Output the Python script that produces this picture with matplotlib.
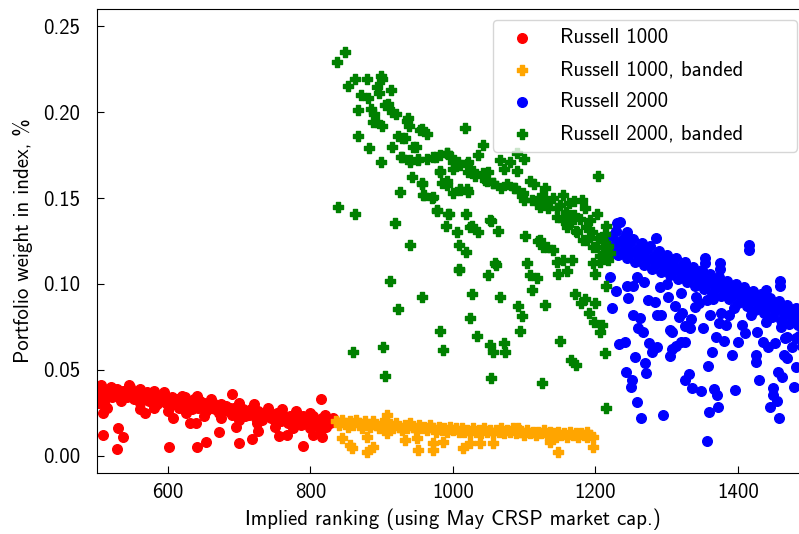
import matplotlib
matplotlib.use("Agg")
import matplotlib.pyplot as plt
import numpy as np

# (implied rank, weight in %)
russell1000 = [
    (500, .039), (503, .035), (506, .041), (508, .037), (511, .033), (514, .038), (517, .036), (520, .040),
    (522, .034), (525, .037), (528, .039), (531, .035), (534, .032), (537, .038), (540, .036), (543, .034),
    (546, .040), (549, .036), (552, .033), (555, .037), (558, .035), (561, .031), (564, .036), (567, .034),
    (570, .037), (573, .032), (576, .035), (579, .033), (582, .036), (585, .030), (588, .034), (591, .032),
    (594, .036), (597, .031), (600, .033), (603, .029), (606, .034), (609, .031), (612, .033), (615, .028),
    (618, .032), (621, .030), (624, .034), (627, .029), (630, .031), (633, .027), (636, .033), (639, .030),
    (642, .028), (645, .032), (648, .029), (651, .031), (654, .026), (657, .030), (660, .028), (663, .031),
    (666, .027), (669, .029), (672, .025), (675, .030), (678, .027), (681, .029), (684, .026), (687, .028),
    (690, .024), (693, .028), (696, .026), (699, .029), (702, .025), (705, .027), (708, .023), (711, .026),
    (714, .024), (717, .027), (720, .025), (723, .022), (726, .026), (729, .024), (732, .021), (735, .025),
    (738, .023), (741, .026), (744, .022), (747, .024), (750, .021), (753, .025), (756, .023), (759, .020),
    (762, .024), (765, .022), (768, .019), (771, .023), (774, .021), (777, .024), (780, .020), (783, .022),
    (786, .018), (789, .023), (792, .021), (795, .019), (798, .022), (801, .020), (804, .023), (807, .018),
    (810, .021), (813, .019), (816, .022), (819, .020), (822, .017), (825, .021), (828, .019), (831, .022),
    (834, .020),
    (501, .031), (512, .029), (545, .041), (560, .039), (580, .038), (595, .037), (620, .035), (640, .035),
    (660, .033), (700, .031), (720, .030), (740, .028), (760, .027), (780, .026), (800, .025), (820, .024),
    (560, .027), (580, .028), (600, .026), (625, .025), (650, .023), (675, .022), (700, .021), (725, .019),
    (750, .017), (775, .016), (800, .016), (815, .015),
    (509, .012), (530, .016), (537, .011), (529, .004), (601, .005), (641, .005), (653, .008), (671, .014),
    (690, .036), (699, .0076), (718, .010), (696, .017), (726, .0145), (790, .006), (815, .033), (804, .012),
    (816, .011), (756, .0116), (767, .012), (631, .019), (639, .019), (607, .022), (568, .025), (509, .025),
    (514, .028), (503, .031),
]

russell1000_banded = [
    (836, .020), (840, .018), (844, .021), (848, .019), (852, .017), (856, .020), (860, .018), (864, .021),
    (868, .019), (872, .016), (876, .020), (880, .018), (884, .017), (888, .020), (892, .018), (896, .016),
    (900, .019), (904, .017), (908, .020), (912, .018), (916, .016), (920, .019), (924, .017), (928, .015),
    (932, .018), (936, .016), (940, .019), (944, .017), (948, .015), (952, .018), (956, .016), (960, .017),
    (964, .015), (968, .018), (972, .016), (976, .014), (980, .017), (984, .015), (988, .016), (992, .014),
    (996, .017), (1000, .015), (1004, .016), (1008, .014), (1012, .016), (1016, .014), (1020, .015),
    (1024, .013), (1028, .016), (1032, .014), (1036, .015), (1040, .013), (1044, .016), (1048, .014),
    (1052, .015), (1056, .013), (1060, .015), (1064, .014), (1068, .016), (1072, .013), (1076, .015),
    (1080, .014), (1084, .016), (1088, .013), (1092, .015), (1096, .014), (1100, .012), (1104, .015),
    (1108, .013), (1112, .014), (1116, .012), (1120, .014), (1124, .013), (1128, .015), (1132, .012),
    (1136, .014), (1140, .013), (1144, .011), (1148, .014), (1152, .012), (1156, .013), (1160, .011),
    (1164, .014), (1168, .012), (1172, .013), (1176, .011), (1180, .013), (1184, .012), (1188, .014),
    (1192, .012), (1196, .011),
    (844, .0105), (856, .0064), (858, .0047), (879, .0023), (888, .0052), (907, .024), (880, .011),
    (907, .013), (933, .009), (950, .0105), (951, .0035), (972, .0076), (972, .0035), (986, .008),
    (1014, .0047), (1024, .0076), (1038, .0076), (1056, .0076), (1148, .0023), (1136, .008), (1197, .0052),
    (1188, .011), (1091, .016),
]

russell2000 = [
    (1220, .118), (1223, .128), (1226, .122), (1229, .131), (1232, .117), (1235, .125), (1238, .120),
    (1241, .128), (1244, .115), (1247, .123), (1250, .118), (1253, .126), (1256, .113), (1259, .121),
    (1262, .116), (1265, .124), (1268, .111), (1271, .119), (1274, .114), (1277, .122), (1280, .109),
    (1283, .117), (1286, .112), (1289, .119), (1292, .107), (1295, .114), (1298, .110), (1301, .117),
    (1304, .105), (1307, .112), (1310, .108), (1313, .115), (1316, .103), (1319, .110), (1322, .106),
    (1325, .113), (1328, .101), (1331, .108), (1334, .104), (1337, .110), (1340, .099), (1343, .106),
    (1346, .102), (1349, .108), (1352, .097), (1355, .104), (1358, .100), (1361, .106), (1364, .095),
    (1367, .102), (1370, .098), (1373, .104), (1376, .093), (1379, .100), (1382, .096), (1385, .102),
    (1388, .091), (1391, .098), (1394, .094), (1397, .100), (1400, .089), (1403, .096), (1406, .092),
    (1409, .098), (1412, .087), (1415, .094), (1418, .090), (1421, .096), (1424, .085), (1427, .092),
    (1430, .088), (1433, .094), (1436, .083), (1439, .090), (1442, .086), (1445, .092), (1448, .081),
    (1451, .088), (1454, .084), (1457, .090), (1460, .079), (1463, .086), (1466, .082), (1469, .088),
    (1472, .077), (1475, .084), (1478, .080), (1481, .086), (1484, .076), (1487, .082), (1490, .079),
    (1494, .085), (1498, .077),
    (1230, .1355), (1234, .136), (1244, .130), (1285, .127), (1416, .120), (1354, .112), (1375, .1087),
    (1459, .099), (1440, .0965), (1416, .1227), (1354, .115), (1375, .112), (1459, .102),
    (1220, .104), (1229, .096), (1223, .086), (1246, .092), (1244, .099), (1252, .099), (1252, .082),
    (1262, .080), (1260, .0744), (1267, .072), (1233, .065), (1241, .0663), (1256, .0576), (1243, .0488),
    (1251, .044), (1250, .040), (1258, .0314), (1264, .022), (1295, .0238), (1271, .048), (1275, .0657),
    (1279, .0605), (1287, .0634), (1274, .0907), (1284, .0895), (1286, .082), (1292, .082), (1302, .0924),
    (1312, .087), (1317, .081), (1322, .083), (1334, .0797), (1304, .073), (1308, .072), (1326, .0756),
    (1333, .0745), (1313, .064), (1320, .0663), (1326, .0663), (1308, .062), (1304, .058), (1325, .044),
    (1331, .0477), (1335, .0395), (1348, .0378), (1358, .0523), (1364, .0605), (1360, .0256), (1356, .0087),
    (1367, .039), (1371, .0355), (1372, .0285), (1396, .0384), (1369, .069), (1380, .0669), (1392, .0587),
    (1400, .0663), (1351, .0744), (1361, .082), (1376, .083), (1388, .082), (1373, .0773), (1383, .076),
    (1341, .0924), (1356, .0907), (1340, .0866), (1406, .076), (1410, .0715), (1426, .072), (1435, .0663),
    (1442, .0634), (1425, .0587), (1425, .0547), (1430, .044), (1449, .0395), (1449, .0355), (1455, .032),
    (1445, .0285), (1458, .022), (1456, .049), (1462, .046), (1464, .0587), (1469, .057), (1479, .040),
    (1482, .0517), (1466, .0686), (1476, .0634), (1452, .0657), (1469, .0692), (1482, .0686), (1270, .054),
    (1258, .104), (1268, .101), (1290, .098), (1300, .100), (1320, .095), (1345, .089), (1365, .091),
    (1395, .086), (1418, .082), (1440, .078), (1460, .075), (1485, .070), (1490, .064), (1495, .073),
]

russell2000_banded = [
    (837, .229), (849, .235), (853, .215), (863, .219), (879, .219), (899, .221), (900, .219), (913, .213),
    (894, .2145), (896, .211), (871, .210), (881, .208), (866, .201), (885, .202), (889, .199), (905, .204),
    (909, .205), (914, .200), (920, .199), (888, .194), (893, .194), (900, .192), (937, .1965), (938, .192),
    (866, .186), (882, .179), (899, .171), (914, .180), (923, .186), (933, .185), (953, .1895), (963, .187),
    (948, .180), (927, .174), (940, .172), (951, .173), (964, .173), (976, .174), (991, .176), (997, .174),
    (1017, .191), (1042, .181), (1035, .175), (1007, .171), (1000, .167), (1020, .170), (1021, .165),
    (1031, .163), (1049, .165), (982, .165), (942, .162), (985, .159), (926, .1535), (957, .158), (959, .152),
    (972, .1506), (991, .1576), (1010, .1547), (1021, .1535), (1045, .1605), (1056, .159), (1066, .172),
    (1080, .171), (1071, .167), (1090, .166), (1099, .173), (1090, .176), (1068, .156), (1085, .156),
    (1098, .153), (1113, .158), (1129, .156), (1204, .163), (1181, .149),
    (1163, .147), (1202, .141), (1146, .144), (1099, .149), (1118, .148), (1132, .147), (978, .143),
    (993, .141), (1018, .141), (1006, .130), (1024, .133), (1035, .130), (1052, .137), (1063, .131),
    (1101, .128), (1122, .1256), (1132, .1215), (1141, .120), (1160, .133), (1174, .130), (1188, .1256),
    (1202, .1215), (1211, .118), (1218, .114), (940, .1227), (1008, .109), (1059, .112), (1104, .112),
    (1146, .113), (1154, .114), (1167, .114), (1197, .112), (1204, .127), (1193, .137),
    (935, .195), (956, .190), (928, .185), (944, .180), (928, .174), (940, .171), (951, .172), (972, .174),
    (982, .175), (992, .176), (1000, .171), (1010, .169), (1021, .171), (1028, .166), (1042, .1645),
    (1048, .160), (1056, .159), (982, .166), (992, .160), (1000, .153), (956, .159), (958, .152), (971, .150),
    (1010, .155), (1020, .155), (1076, .158), (1087, .156), (1097, .151), (1111, .149), (1122, .145),
    (1133, .144), (1146, .139), (1155, .137), (1165, .136), (1172, .131), (1183, .1256), (1196, .1215),
    (1207, .116),
    (1140, .150), (1150, .146), (1158, .142), (1170, .140), (1178, .138), (1187, .133), (1195, .130),
    (1210, .125), (1217, .122), (1213, .129), (1220, .118), (1185, .144), (1170, .148), (1155, .152),
    (1125, .152), (1108, .160),
    (839, .145), (863, .141), (919, .1355), (912, .102), (957, .0924), (923, .0855), (860, .0605),
    (902, .0634), (905, .0465), (982, .0727), (986, .0616), (978, .1424), (994, .1407), (990, .134),
    (1008, .1227), (1018, .1186), (1008, .108), (1027, .134), (1053, .1366), (1060, .111), (1049, .105),
    (1026, .094), (1024, .080), (1066, .0924), (1034, .0698), (1052, .0645), (1056, .0605), (1071, .0657),
    (1073, .0605), (1053, .0453), (1091, .087), (1097, .0814), (1094, .0727), (1111, .0965), (1108, .105),
    (1118, .1035), (1129, .0878), (1119, .125), (1127, .1215), (1148, .106), (1160, .1076), (1150, .0669),
    (1166, .0558), (1173, .053), (1125, .0424), (1171, .094), (1180, .089), (1185, .091), (1199, .089),
    (1191, .083), (1198, .078), (1209, .076), (1207, .072), (1199, .106), (1215, .099), (1213, .060),
    (1215, .028), (1206, .113), (1215, .134),
]

series = [
    (russell1000, "red", "o", "Russell 1000"),
    (russell1000_banded, "orange", "P", "Russell 1000, banded"),
    (russell2000, "blue", "o", "Russell 2000"),
    (russell2000_banded, "green", "P", "Russell 2000, banded"),
]

plt.rcParams["font.family"] = "cmss10"
plt.rcParams["axes.unicode_minus"] = False
plt.rcParams["font.size"] = 15

fig = plt.figure(figsize=(7.99, 5.34), dpi=100)
ax = fig.add_axes([0.1211, 0.1142, 0.8917, 0.8689])

for pts, color, marker, label in series:
    arr = np.array(pts)
    ax.scatter(arr[:, 0], arr[:, 1], s=48, c=color, marker=marker, label=label)

ax.set_xlim(500, 1500)
ax.set_ylim(-0.01, 0.26)
ax.set_xticks([600, 800, 1000, 1200, 1400])
ax.set_yticks([0.0, 0.05, 0.10, 0.15, 0.20, 0.25])
ax.yaxis.set_major_formatter(matplotlib.ticker.FormatStrFormatter("%.2f"))
ax.tick_params(direction="in", length=5, top=False, right=False)
ax.tick_params(axis="y", pad=12)
ax.tick_params(axis="x", pad=7)

ax.set_xlabel("Implied ranking (using May CRSP market cap.)", labelpad=5)
ax.set_ylabel("Portfolio weight in index, %", labelpad=7)

ax.legend(loc="upper left", bbox_to_anchor=(0.556, 0.5, 0.427, 0.476), mode="expand",
          borderaxespad=0, scatterpoints=1, handlelength=2.0, labelspacing=0.62)

fig.savefig("out.png", dpi=100)
